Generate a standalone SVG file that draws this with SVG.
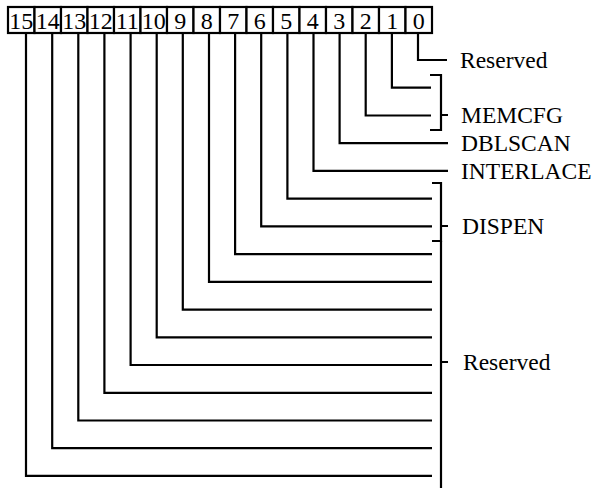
<svg xmlns="http://www.w3.org/2000/svg" width="594" height="488" viewBox="0 0 594 488">
<style>
.box{fill:#fff;stroke:#000;stroke-width:2.2}
.dig{font-family:"Liberation Serif","Times New Roman",serif;font-size:24px;text-anchor:middle;fill:#000}
.lbl{font-family:"Liberation Serif","Times New Roman",serif;font-size:23.5px;fill:#000}
.ln{fill:none;stroke:#000;stroke-width:2.2;stroke-linejoin:miter;stroke-linecap:butt}
</style>
<rect width="594" height="488" fill="#fff"/>
<g id="register">
<g id="bit15"><rect class="box" x="8" y="7" width="26.5" height="26"/><text class="dig" x="21.25" y="29">15</text></g>
<g id="bit14"><rect class="box" x="34.5" y="7" width="26.5" height="26"/><text class="dig" x="47.75" y="29">14</text></g>
<g id="bit13"><rect class="box" x="61" y="7" width="26.5" height="26"/><text class="dig" x="74.25" y="29">13</text></g>
<g id="bit12"><rect class="box" x="87.5" y="7" width="26.5" height="26"/><text class="dig" x="100.75" y="29">12</text></g>
<g id="bit11"><rect class="box" x="114" y="7" width="26.5" height="26"/><text class="dig" x="127.25" y="29">11</text></g>
<g id="bit10"><rect class="box" x="140.5" y="7" width="26.5" height="26"/><text class="dig" x="153.75" y="29">10</text></g>
<g id="bit9"><rect class="box" x="167" y="7" width="26.5" height="26"/><text class="dig" x="180.25" y="29">9</text></g>
<g id="bit8"><rect class="box" x="193.5" y="7" width="26.5" height="26"/><text class="dig" x="206.75" y="29">8</text></g>
<g id="bit7"><rect class="box" x="220" y="7" width="26.5" height="26"/><text class="dig" x="233.25" y="29">7</text></g>
<g id="bit6"><rect class="box" x="246.5" y="7" width="26.5" height="26"/><text class="dig" x="259.75" y="29">6</text></g>
<g id="bit5"><rect class="box" x="273" y="7" width="26.5" height="26"/><text class="dig" x="286.25" y="29">5</text></g>
<g id="bit4"><rect class="box" x="299.5" y="7" width="26.5" height="26"/><text class="dig" x="312.75" y="29">4</text></g>
<g id="bit3"><rect class="box" x="326" y="7" width="26.5" height="26"/><text class="dig" x="339.25" y="29">3</text></g>
<g id="bit2"><rect class="box" x="352.5" y="7" width="26.5" height="26"/><text class="dig" x="365.75" y="29">2</text></g>
<g id="bit1"><rect class="box" x="379" y="7" width="26.5" height="26"/><text class="dig" x="392.25" y="29">1</text></g>
<g id="bit0"><rect class="box" x="405.5" y="7" width="26.5" height="26"/><text class="dig" x="418.75" y="29">0</text></g>
</g>
<g id="connectors">
<path class="ln" d="M418,34V60H447"/>
<path class="ln" d="M391.9,34V87.7H431"/>
<path class="ln" d="M365.7,34V115.5H431"/>
<path class="ln" d="M339.6,34V143.2H448"/>
<path class="ln" d="M313.5,34V170.9H448"/>
<path class="ln" d="M287.4,34V198.7H432"/>
<path class="ln" d="M261.2,34V226.4H432"/>
<path class="ln" d="M235.1,34V254.1H432"/>
<path class="ln" d="M209,34V281.8H432"/>
<path class="ln" d="M182.8,34V309.6H432"/>
<path class="ln" d="M156.7,34V337.3H432"/>
<path class="ln" d="M130.6,34V365H432"/>
<path class="ln" d="M104.4,34V392.8H432"/>
<path class="ln" d="M78.3,34V420.5H432"/>
<path class="ln" d="M52.2,34V448.2H432"/>
<path class="ln" d="M26,34V475.9H432"/>
<path id="brace-memcfg" class="ln" d="M430,75H441V130H430M441,115H448"/>
<path id="brace-dispen" class="ln" d="M432,183H441V241H432M441,226H448"/>
<path id="brace-reserved" class="ln" d="M441,241V488M441,362H448"/>
</g>
<g id="label-reserved0"><text class="lbl" x="460" y="67.8">Reserved</text></g>
<g id="label-memcfg"><text class="lbl" x="461" y="122.8">MEMCFG</text></g>
<g id="label-dblscan"><text class="lbl" x="461" y="150.8">DBLSCAN</text></g>
<g id="label-interlace"><text class="lbl" x="461" y="178.5">INTERLACE</text></g>
<g id="label-dispen"><text class="lbl" x="462" y="234">DISPEN</text></g>
<g id="label-reserved"><text class="lbl" x="463" y="369.8">Reserved</text></g>
</svg>
